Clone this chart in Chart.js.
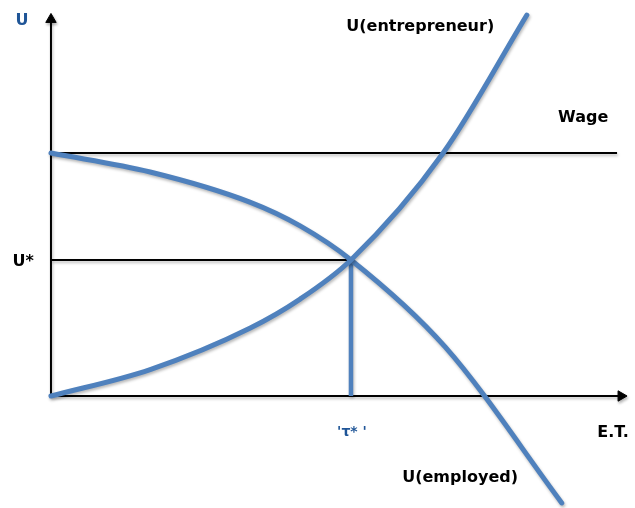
<!DOCTYPE html>
<html>
<head>
<meta charset="utf-8">
<title>U(entrepreneur) vs U(employed)</title>
<script src="https://cdn.jsdelivr.net/npm/chart.js@4.4.1/dist/chart.umd.min.js"></script>
<style>
  html, body { margin: 0; padding: 0; background: #fff; }
  #wrap { width: 635px; height: 508px; position: relative; }
</style>
</head>
<body>
<div id="wrap"><canvas id="chart"></canvas></div>
<script>
// values (x = E.T., y = U)
const entX = [0, 1.99, 4.0, 5.0, 6.02, 7.87, 9.55];
const entY = [0, 1.09, 2.80, 3.99, 5.6, 10.0, 15.68];

const empX = [0, 1.99, 3.99, 5.0, 6.02, 7.91, 10.25];
const empY = [10, 9.22, 7.98, 7.0, 5.6, 2.02, -4.40];

const wage    = 10;
const uStar   = 5.6;
const tauStar = 6.02;
const xEnd    = 11.44;   // x axis arrow
const yEnd    = 15.5;    // y axis arrow
const wageEnd = 11.36;

const labelText = ['U', 'U*', 'U(entrepreneur)', 'Wage', 'E.T.', 'U(employed)', '\'\u03c4* \''];

const BLUE = '#4f81bd';
const INK  = '#000000';
const NAVY = '#1f5597';

function pts(xs, ys) {
  return xs.map((x, i) => ({ x: x, y: ys[i] }));
}

// where each label sits, in data units
const labelSpots = [
  { x: -0.58, y: 15.43, color: NAVY, size: 16 },
  { x: -0.56, y: 5.51,  color: INK,  size: 16 },
  { x: 7.41,  y: 15.19, color: INK,  size: 16 },
  { x: 10.68, y: 11.44, color: INK,  size: 16 },
  { x: 11.28, y: -1.52, color: INK,  size: 16 },
  { x: 8.21,  y: -3.37, color: INK,  size: 16 },
  { x: 6.04,  y: -1.48, color: NAVY, size: 14 },
];

const shadowPlugin = {
  id: 'shadow',
  beforeDatasetDraw(chart) {
    const ctx = chart.ctx;
    ctx.save();
    ctx.shadowColor = 'rgba(0,0,0,0.28)';
    ctx.shadowBlur = 3;
    ctx.shadowOffsetX = 1;
    ctx.shadowOffsetY = 2;
  },
  afterDatasetDraw(chart) {
    chart.ctx.restore();
  },
};

const labelPlugin = {
  id: 'labels',
  afterDatasetsDraw(chart) {
    const ctx = chart.ctx;
    const sx = chart.scales.x, sy = chart.scales.y;
    ctx.save();
    ctx.textAlign = 'center';
    ctx.textBaseline = 'middle';
    labelText.forEach((t, i) => {
      const s = labelSpots[i];
      ctx.font = 'bold ' + s.size + 'px "DejaVu Sans", Verdana, sans-serif';
      ctx.fillStyle = s.color;
      ctx.fillText(t, sx.getPixelForValue(s.x), sy.getPixelForValue(s.y));
    });
    ctx.restore();
  },
};

const line = (data, color, width, extra) => Object.assign({
  data: data,
  showLine: true,
  borderColor: color,
  borderWidth: width,
  pointRadius: 0,
  pointHoverRadius: 0,
  fill: false,
}, extra || {});

const arrow = (pt, rot) => ({
  data: [pt],
  pointStyle: 'triangle',
  rotation: rot,
  pointRadius: 6,
  backgroundColor: INK,
  borderColor: INK,
  borderWidth: 1,
});

const curve = { cubicInterpolationMode: 'monotone', borderCapStyle: 'round', borderJoinStyle: 'round' };

new Chart(document.getElementById('chart'), {
  type: 'scatter',
  data: {
    datasets: [
      line(pts(entX, entY), BLUE, 5, curve),
      line(pts(empX, empY), BLUE, 5, curve),
      line([{ x: tauStar, y: 0 }, { x: tauStar, y: uStar }], BLUE, 4.5),
      line([{ x: 0, y: uStar }, { x: tauStar, y: uStar }], INK, 2),
      line([{ x: 0, y: wage }, { x: wageEnd, y: wage }], INK, 2),
      line([{ x: 0, y: 0 }, { x: xEnd, y: 0 }], INK, 2),
      line([{ x: 0, y: 0 }, { x: 0, y: yEnd }], INK, 2),
      arrow({ x: xEnd, y: 0 }, 90),
      arrow({ x: 0, y: yEnd }, 0),
    ],
  },
  options: {
    responsive: true,
    maintainAspectRatio: false,
    animation: false,
    layout: { padding: 0, autoPadding: false },
    plugins: {
      legend: { display: false },
      tooltip: { enabled: false },
    },
    scales: {
      x: { type: 'linear', display: false, min: -1.023, max: 11.72 },
      y: { type: 'linear', display: false, min: -4.61, max: 16.3 },
    },
  },
  plugins: [shadowPlugin, labelPlugin],
});
</script>
</body>
</html>
